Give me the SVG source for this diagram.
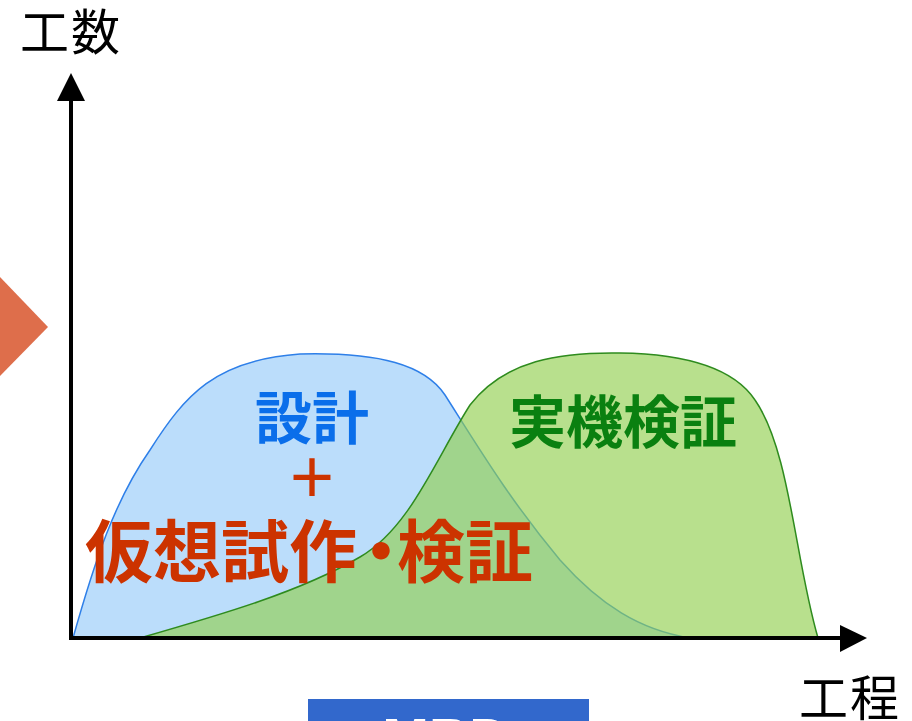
<svg xmlns="http://www.w3.org/2000/svg" width="912" height="721" viewBox="0 0 912 721">
<defs>
<style>
.ax{stroke:#000;stroke-width:4;fill:none}
.ah{fill:#000}
.lbl{font-family:"Noto Sans CJK JP","Noto Sans",sans-serif;font-weight:400;fill:#000;letter-spacing:2px}
.big{font-family:"Noto Sans CJK JP","Noto Sans",sans-serif;font-weight:700}
.mid{text-anchor:middle}
</style>
</defs>
<rect width="912" height="721" fill="#fff"/>
<g id="chevron"><polygon points="0,277 48,327 0,376" fill="#DE6E4B"/></g>
<g id="design-area">
<path d="M73,638 C95,560 115,500 150,450 C185,395 215,360 300,354 C380,352 425,365 445,395 C480,450 510,500 560,560 C600,605 640,630 690,638 Z" fill="#BBDDFB" stroke="#2E7FE8" stroke-width="1.5"/>
</g>
<g id="real-area">
<path d="M140,638 C220,615 300,592 360,557 C410,528 435,460 470,405 C505,360 560,352 620,353 C690,354 735,370 755,400 C790,450 795,560 818,638 Z" fill="#92D050" fill-opacity="0.65" stroke="#2E8B1E" stroke-width="1.5"/>
</g>
<g id="axes">
<line class="ax" x1="71" y1="640" x2="71" y2="98"/>
<polygon class="ah" points="71,73 57,101 85,101"/>
<line class="ax" x1="69" y1="638" x2="842" y2="638"/>
<polygon class="ah" points="867,638 840,625 840,652"/>
</g>
<g id="y-label"><text class="lbl" x="20" y="50" font-size="49">工数</text></g>
<g id="x-label"><text class="lbl" x="799" y="716" font-size="49">工程</text></g>
<g id="design-label">
<text class="big mid" x="312" y="439" font-size="57" fill="#0A6EEA">設計</text>
<text class="big mid" x="312" y="497" font-size="52" fill="#CC3300">＋</text>
<text class="big" x="85" y="577" font-size="68" fill="#CC3300">仮想試作<tspan dx="-10">・</tspan><tspan dx="-18">検証</tspan></text>
</g>
<g id="real-label"><text class="big mid" x="623" y="443" font-size="57" fill="#0A8010">実機検証</text></g>
<g id="mbd-box">
<rect x="308" y="699" width="281" height="40" fill="#3268CC"/>
<text x="446" y="757" font-family="Liberation Sans,Arial,sans-serif" font-weight="700" font-size="56" fill="#fff" text-anchor="middle">MBD</text>
</g>
</svg>
